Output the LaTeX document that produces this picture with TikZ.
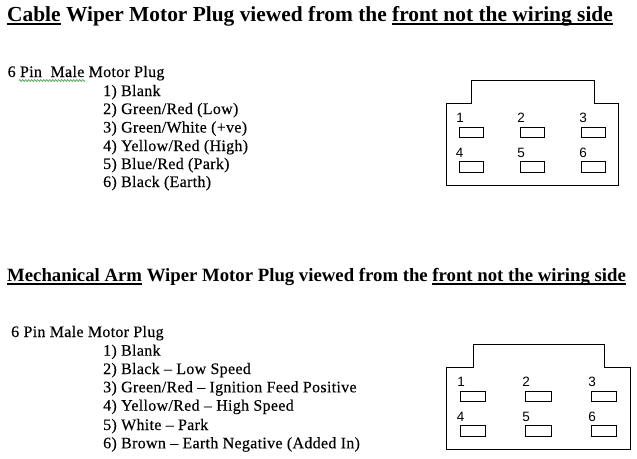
\documentclass[tikz,border=0pt]{standalone}
\usepackage{fontspec}
\setmainfont{Liberation Serif}
\newfontfamily\pinfont{Liberation Sans}
\usetikzlibrary{decorations.pathmorphing}
\definecolor{spell_c}{rgb}{0.25, 0.6, 0.25}
% heavy rule under heading words
\newcommand{\headrule}[1]{\setbox0=\hbox{#1}\rlap{\rule[-3.5pt]{\wd0}{2pt}}\box0\relax}
\begin{document}
\begin{tikzpicture}[
			x=1pt, y=-1pt,
			title/.style = {anchor=base west, inner sep=0pt, font=\bfseries\fontsize{21.4}{24}\selectfont},
			title2/.style = {anchor=base west, inner sep=0pt, font=\bfseries\fontsize{18.75}{21}\selectfont},
			item/.style = {anchor=base west, inner sep=0pt, font=\fontsize{16}{18}\selectfont\addfontfeatures{LetterSpace=1.9,FakeBold=0.25}},
			pin/.style = {draw, line width=1pt, inner sep=0pt, minimum width=24pt, minimum height=10.4pt},
			num/.style = {inner sep=0pt, font=\pinfont\fontsize{13.5}{15}\selectfont},
			outline/.style = {draw, line width=1pt},
			]
			\useasboundingbox (0,0) rectangle (637,458);
			% headings
			\node[title] (t1) at (7,21) {\headrule{Cable} Wiper Motor Plug viewed from the \headrule{front not the wiring side}};
			\node[title2] (t2) at (7,281.7) {\headrule{Mechanical Arm} Wiper Motor Plug viewed from the \headrule{front not the wiring side}};
			% first list
			\node[item] (a0) at (7.5,77) {6 Pin\ \ Male Motor Plug};
			\node[item] (a1) at (103,96) {1) Blank};
			\node[item] (a2) at (103,114) {2) Green/Red (Low)};
			\node[item] (a3) at (103,132.5) {3) Green/White (+ve)};
			\node[item] (a4) at (103,151) {4) Yellow/Red (High)};
			\node[item] (a5) at (103,169) {5) Blue/Red (Park)};
			\node[item] (a6) at (103,187) {6) Black (Earth)};
			% spelling mark
			\coordinate (w1) at (19,80.5);
			\coordinate (w2) at (85,80.5);
			\draw[spell_c, line width=0.6pt, decorate, decoration={zigzag, amplitude=1pt, segment length=3pt}] (w1) -- (w2);
			% second list
			\node[item] (b0) at (11,337) {6 Pin Male Motor Plug};
			\node[item] (b1) at (103,355.7) {1) Blank};
			\node[item] (b2) at (103,374) {2) Black -- Low Speed};
			\node[item] (b3) at (103,392.3) {3) Green/Red -- Ignition Feed Positive};
			\node[item] (b4) at (103,410.7) {4) Yellow/Red -- High Speed};
			\node[item] (b5) at (103,430) {5) White -- Park};
			\node[item] (b6) at (103,448.3) {6) Brown -- Earth Negative (Added In)};
			% first plug
			\draw[outline] (446.5,103) -- (471.5,103) -- (471.5,80.5) -- (594.5,80.5) -- (594.5,103)
				-- (618.5,103) -- (618.5,185.5) -- (446.5,185.5) -- cycle;
			\node[pin] (p1) at (471,132.5) {};
			\node[pin] (p2) at (532.5,132.5) {};
			\node[pin] (p3) at (593.5,132.5) {};
			\node[pin] (p4) at (471,167) {};
			\node[pin] (p5) at (532.5,167) {};
			\node[pin] (p6) at (593.5,167) {};
			\node[num] (n1) at (460,118) {1};
			\node[num] (n2) at (521,118) {2};
			\node[num] (n3) at (583,118) {3};
			\node[num] (n4) at (459.5,153) {4};
			\node[num] (n5) at (521,153) {5};
			\node[num] (n6) at (583,153) {6};
			% second plug
			\draw[outline] (446.5,367.5) -- (473.5,367.5) -- (473.5,344.5) -- (604.5,344.5) -- (604.5,367.5)
				-- (630.5,367.5) -- (630.5,449.5) -- (446.5,449.5) -- cycle;
			\node[pin, minimum width=25.5pt] (q1) at (473,396.5) {};
			\node[pin, minimum width=26pt] (q2) at (538.3,396.5) {};
			\node[pin, minimum width=25.5pt] (q3) at (604,396.5) {};
			\node[pin, minimum width=25.5pt] (q4) at (473,431) {};
			\node[pin, minimum width=26pt] (q5) at (538.3,431) {};
			\node[pin, minimum width=25.5pt] (q6) at (604,431) {};
			\node[num] (m1) at (461,382) {1};
			\node[num] (m2) at (526,382) {2};
			\node[num] (m3) at (592,382) {3};
			\node[num] (m4) at (460.5,417) {4};
			\node[num] (m5) at (526,417) {5};
			\node[num] (m6) at (592,417) {6};
\end{tikzpicture}
\end{document}
